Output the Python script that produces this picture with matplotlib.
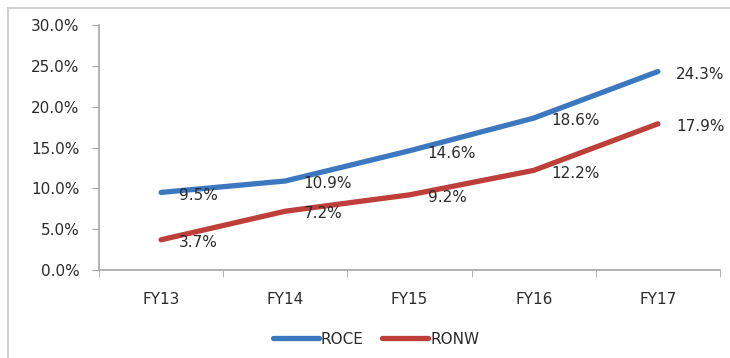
import matplotlib
matplotlib.use('Agg')
from matplotlib import pyplot as plt
from matplotlib.lines import Line2D
from matplotlib.ticker import FuncFormatter, FixedLocator

plt.rcParams['font.family'] = 'DejaVu Sans'
plt.rcParams['font.size'] = 11

years = ['FY13', 'FY14', 'FY15', 'FY16', 'FY17']
roce = [9.5, 10.9, 14.6, 18.6, 24.3]
ronw = [3.7, 7.2, 9.2, 12.2, 17.9]

blue = '#3C78BF'
red = '#BE3E3A'
axis_grey = '#A6A6A6'
text_col = '#2B2B2B'

fig = plt.figure(figsize=(7.3, 3.58), dpi=100)
ax = fig.add_axes([99 / 730, 1 - 270 / 358, (720 - 99) / 730, (270 - 25) / 358])

x = list(range(len(years)))
ax.plot(x, roce, color=blue, lw=3.8, solid_capstyle='round', solid_joinstyle='round', label='ROCE')
ax.plot(x, ronw, color=red, lw=3.8, solid_capstyle='round', solid_joinstyle='round', label='RONW')

for xi, v in zip(x, roce):
    ax.annotate(f'{v:.1f}%', (xi, v), xytext=(13, -2), textcoords='offset points',
                ha='left', va='center', color=text_col)
for xi, v in zip(x, ronw):
    ax.annotate(f'{v:.1f}%', (xi, v), xytext=(13, -2), textcoords='offset points',
                ha='left', va='center', color=text_col)

ax.set_xlim(-0.5, len(years) - 0.5)
ax.set_ylim(0, 30)
ax.set_yticks([0, 5, 10, 15, 20, 25, 30])
ax.yaxis.set_major_formatter(FuncFormatter(lambda v, p: f'{v:.1f}%'))

ax.set_xticks(x)
ax.set_xticklabels(years)
ax.xaxis.set_minor_locator(FixedLocator([i - 0.5 for i in range(len(years) + 1)]))
ax.tick_params(axis='x', which='major', length=0, pad=16, colors=text_col)
ax.tick_params(axis='x', which='minor', length=5, color=axis_grey)
ax.tick_params(axis='y', length=5, color=axis_grey, pad=9, labelcolor=text_col)

for s in ['top', 'right']:
    ax.spines[s].set_visible(False)
for s in ['left', 'bottom']:
    ax.spines[s].set_color(axis_grey)
    ax.spines[s].set_linewidth(1.2)

handles = [Line2D([], [], color=blue, lw=3.8, solid_capstyle='round'),
           Line2D([], [], color=red, lw=3.8, solid_capstyle='round')]
fig.legend(handles, ['ROCE', 'RONW'], loc='center', bbox_to_anchor=(376 / 730, 1 - 339 / 358),
           ncol=2, frameon=False, handlelength=3.0, handletextpad=0.15, columnspacing=1.2,
           labelcolor=text_col)

# chart frame (left and top edges visible)
fig.add_artist(Line2D([7.5 / 730, 7.5 / 730], [0, 1 - 7.5 / 358], color='#C8C8C8', lw=1.2))
fig.add_artist(Line2D([7.5 / 730, 1], [1 - 7.5 / 358, 1 - 7.5 / 358], color='#C8C8C8', lw=1.2))

fig.savefig('out.png', dpi=100)
